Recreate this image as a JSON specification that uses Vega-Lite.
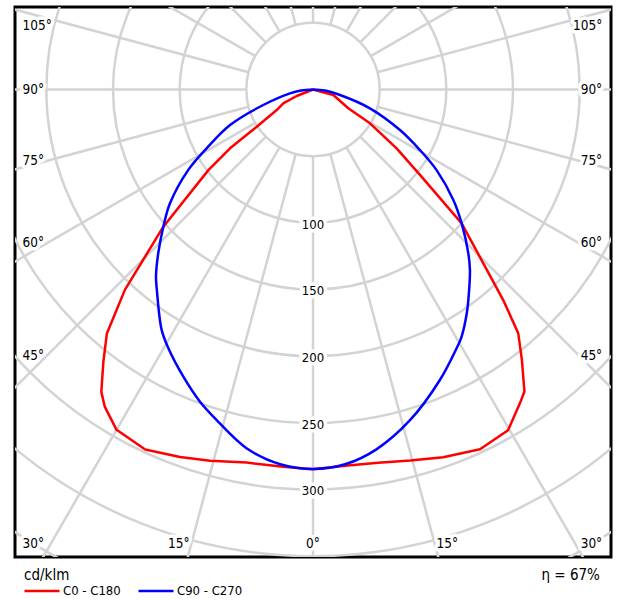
{
  "$schema": "https://vega.github.io/schema/vega-lite/v6.json",
  "width": 596,
  "height": 550,
  "autosize": {"type": "none"},
  "padding": {"left": 15, "top": 7, "right": 7, "bottom": 43},
  "config": {
    "view": {"stroke": "black", "strokeWidth": 3},
    "font": "DejaVu Sans Condensed, DejaVu Sans",
    "text": {"font": "DejaVu Sans Condensed, DejaVu Sans", "color": "black"}
  },
  "datasets": {
    "rings": [{"r": 50}, {"r": 100}, {"r": 150}, {"r": 200}, {"r": 250}, {"r": 300}, {"r": 350}, {"r": 400}],
    "spokes": [
      {"angle": -165}, {"angle": -150}, {"angle": -135}, {"angle": -120}, {"angle": -105}, {"angle": -90},
      {"angle": -75}, {"angle": -60}, {"angle": -45}, {"angle": -30}, {"angle": -15}, {"angle": 0},
      {"angle": 15}, {"angle": 30}, {"angle": 45}, {"angle": 60}, {"angle": 75}, {"angle": 90},
      {"angle": 105}, {"angle": 120}, {"angle": 135}, {"angle": 150}, {"angle": 165}, {"angle": 180}
    ],
    "curves": [
      {"series": "C0 - C180", "angle": -90, "I": 0},
      {"series": "C0 - C180", "angle": -68.3, "I": 13.2},
      {"series": "C0 - C180", "angle": -65.1, "I": 24.6},
      {"series": "C0 - C180", "angle": -60.5, "I": 31.3},
      {"series": "C0 - C180", "angle": -56.5, "I": 50.6},
      {"series": "C0 - C180", "angle": -54.7, "I": 76.3},
      {"series": "C0 - C180", "angle": -52.4, "I": 99.1},
      {"series": "C0 - C180", "angle": -47.5, "I": 152.3},
      {"series": "C0 - C180", "angle": -43.2, "I": 206.2},
      {"series": "C0 - C180", "angle": -40.2, "I": 239.6},
      {"series": "C0 - C180", "angle": -37.6, "I": 257.8},
      {"series": "C0 - C180", "angle": -35.0, "I": 276.9},
      {"series": "C0 - C180", "angle": -33.3, "I": 284.6},
      {"series": "C0 - C180", "angle": -30.0, "I": 294.8},
      {"series": "C0 - C180", "angle": -25.0, "I": 297.9},
      {"series": "C0 - C180", "angle": -19.9, "I": 293.2},
      {"series": "C0 - C180", "angle": -15.5, "I": 289.0},
      {"series": "C0 - C180", "angle": -10.1, "I": 284.3},
      {"series": "C0 - C180", "angle": -4.5, "I": 283.9},
      {"series": "C0 - C180", "angle": 0, "I": 284.8},
      {"series": "C0 - C180", "angle": 4.9, "I": 283.3},
      {"series": "C0 - C180", "angle": 9.9, "I": 284.2},
      {"series": "C0 - C180", "angle": 14.7, "I": 287.8},
      {"series": "C0 - C180", "angle": 19.5, "I": 292.7},
      {"series": "C0 - C180", "angle": 24.9, "I": 297.6},
      {"series": "C0 - C180", "angle": 29.8, "I": 294.5},
      {"series": "C0 - C180", "angle": 33.4, "I": 282.0},
      {"series": "C0 - C180", "angle": 35.0, "I": 276.6},
      {"series": "C0 - C180", "angle": 37.7, "I": 256.3},
      {"series": "C0 - C180", "angle": 40.1, "I": 239.1},
      {"series": "C0 - C180", "angle": 42.1, "I": 212.9},
      {"series": "C0 - C180", "angle": 48.0, "I": 150.1},
      {"series": "C0 - C180", "angle": 51.4, "I": 102.7},
      {"series": "C0 - C180", "angle": 54.9, "I": 76.7},
      {"series": "C0 - C180", "angle": 59.3, "I": 49.7},
      {"series": "C0 - C180", "angle": 62.0, "I": 30.0},
      {"series": "C0 - C180", "angle": 74.8, "I": 15.8},
      {"series": "C0 - C180", "angle": 90, "I": 0},
      {"series": "C90 - C270", "angle": -90, "I": 0},
      {"series": "C90 - C270", "angle": -85, "I": 9},
      {"series": "C90 - C270", "angle": -80.6, "I": 17.5},
      {"series": "C90 - C270", "angle": -72.7, "I": 39.1},
      {"series": "C90 - C270", "angle": -66.8, "I": 67.7},
      {"series": "C90 - C270", "angle": -61.0, "I": 91.5},
      {"series": "C90 - C270", "angle": -57.2, "I": 111.3},
      {"series": "C90 - C270", "angle": -51.5, "I": 137.1},
      {"series": "C90 - C270", "angle": -47.5, "I": 152.3},
      {"series": "C90 - C270", "angle": -43.4, "I": 169.0},
      {"series": "C90 - C270", "angle": -40.0, "I": 183.3},
      {"series": "C90 - C270", "angle": -37.9, "I": 190.7},
      {"series": "C90 - C270", "angle": -32.2, "I": 213.1},
      {"series": "C90 - C270", "angle": -29.2, "I": 222.4},
      {"series": "C90 - C270", "angle": -24.3, "I": 236.4},
      {"series": "C90 - C270", "angle": -19.9, "I": 249.1},
      {"series": "C90 - C270", "angle": -16.3, "I": 258.2},
      {"series": "C90 - C270", "angle": -10.5, "I": 273.7},
      {"series": "C90 - C270", "angle": -5.0, "I": 282.2},
      {"series": "C90 - C270", "angle": 0, "I": 284.7},
      {"series": "C90 - C270", "angle": 4.9, "I": 282.2},
      {"series": "C90 - C270", "angle": 10.0, "I": 274.1},
      {"series": "C90 - C270", "angle": 16.4, "I": 258.4},
      {"series": "C90 - C270", "angle": 23.6, "I": 237.8},
      {"series": "C90 - C270", "angle": 29.0, "I": 222.1},
      {"series": "C90 - C270", "angle": 31.0, "I": 216.4},
      {"series": "C90 - C270", "angle": 34.5, "I": 203.7},
      {"series": "C90 - C270", "angle": 37.9, "I": 190.7},
      {"series": "C90 - C270", "angle": 41.0, "I": 179.5},
      {"series": "C90 - C270", "angle": 43.5, "I": 169.3},
      {"series": "C90 - C270", "angle": 48.0, "I": 150.1},
      {"series": "C90 - C270", "angle": 51.8, "I": 134.0},
      {"series": "C90 - C270", "angle": 56.9, "I": 110.7},
      {"series": "C90 - C270", "angle": 60.5, "I": 92.2},
      {"series": "C90 - C270", "angle": 65.0, "I": 72.0},
      {"series": "C90 - C270", "angle": 71.7, "I": 45.0},
      {"series": "C90 - C270", "angle": 78.5, "I": 20.7},
      {"series": "C90 - C270", "angle": 85, "I": 9},
      {"series": "C90 - C270", "angle": 90, "I": 0}
    ],
    "ringLabels": [{"v": 100}, {"v": 150}, {"v": 200}, {"v": 250}, {"v": 300}],
    "angleLabels": [
      {"a": 105, "side": -1, "grp": "side", "label": "105°"},
      {"a": 90, "side": -1, "grp": "side", "label": "90°"},
      {"a": 75, "side": -1, "grp": "side", "label": "75°"},
      {"a": 60, "side": -1, "grp": "side", "label": "60°"},
      {"a": 45, "side": -1, "grp": "side", "label": "45°"},
      {"a": 30, "side": -1, "grp": "side", "label": "30°"},
      {"a": 105, "side": 1, "grp": "side", "label": "105°"},
      {"a": 90, "side": 1, "grp": "side", "label": "90°"},
      {"a": 75, "side": 1, "grp": "side", "label": "75°"},
      {"a": 60, "side": 1, "grp": "side", "label": "60°"},
      {"a": 45, "side": 1, "grp": "side", "label": "45°"},
      {"a": 30, "side": 1, "grp": "side", "label": "30°"},
      {"a": 15, "side": -1, "grp": "bottom", "label": "15°"},
      {"a": 0, "side": 1, "grp": "bottom", "label": "0°"},
      {"a": 15, "side": 1, "grp": "bottom", "label": "15°"}
    ]
  },
  "layer": [
    {
      "data": {"name": "rings"},
      "mark": {"type": "point", "shape": "circle", "filled": false, "stroke": "#d3d3d3", "strokeWidth": 2.5, "opacity": 1, "clip": true},
      "encoding": {
        "x": {"datum": 0, "type": "quantitative", "scale": {"domain": [-223.6, 223.6], "nice": false, "zero": false}, "axis": null},
        "y": {"datum": 0, "type": "quantitative", "scale": {"domain": [-350.7, 61.9], "nice": false, "zero": false}, "axis": null},
        "size": {"field": "r", "type": "quantitative", "scale": {"type": "pow", "exponent": 2, "domain": [0, 400], "range": [0, 1137778]}, "legend": null}
      }
    },
    {
      "data": {"name": "spokes"},
      "transform": [
        {"calculate": "50*sin(datum.angle*PI/180)", "as": "xa"},
        {"calculate": "-50*cos(datum.angle*PI/180)", "as": "ya"},
        {"calculate": "700*sin(datum.angle*PI/180)", "as": "xb"},
        {"calculate": "-700*cos(datum.angle*PI/180)", "as": "yb"}
      ],
      "mark": {"type": "rule", "stroke": "#d3d3d3", "strokeWidth": 2.5, "clip": true},
      "encoding": {
        "x": {"field": "xa", "type": "quantitative", "axis": null},
        "y": {"field": "ya", "type": "quantitative", "axis": null},
        "x2": {"field": "xb"},
        "y2": {"field": "yb"}
      }
    },
    {
      "data": {"name": "ringLabels"},
      "transform": [{"calculate": "-datum.v", "as": "ny"}],
      "mark": {"type": "text", "fontSize": 13, "baseline": "middle", "align": "center", "dy": 2, "stroke": "white", "strokeWidth": 7, "strokeJoin": "round", "fill": "white"},
      "encoding": {
        "x": {"datum": 0, "type": "quantitative"},
        "y": {"field": "ny", "type": "quantitative"},
        "text": {"field": "v", "type": "nominal"}
      }
    },
    {
      "data": {"name": "ringLabels"},
      "transform": [{"calculate": "-datum.v", "as": "ny"}],
      "mark": {"type": "text", "fontSize": 13, "baseline": "middle", "align": "center", "dy": 2, "fill": "black"},
      "encoding": {
        "x": {"datum": 0, "type": "quantitative"},
        "y": {"field": "ny", "type": "quantitative"},
        "text": {"field": "v", "type": "nominal"}
      }
    },
    {
      "data": {"name": "angleLabels"},
      "transform": [
        {"filter": "datum.grp == 'side' && datum.side < 0"},
        {"calculate": "-218", "as": "lx"},
        {"calculate": "max(-341, min(48, -200*cos(datum.a*PI/180)/sin(datum.a*PI/180)))", "as": "ly"}
      ],
      "layer": [
        {"mark": {"type": "text", "fontSize": 13.5, "baseline": "middle", "align": "left", "stroke": "white", "strokeWidth": 7, "strokeJoin": "round", "fill": "white"}},
        {"mark": {"type": "text", "fontSize": 13.5, "baseline": "middle", "align": "left", "fill": "black"}}
      ],
      "encoding": {
        "x": {"field": "lx", "type": "quantitative"},
        "y": {"field": "ly", "type": "quantitative"},
        "text": {"field": "label", "type": "nominal"}
      }
    },
    {
      "data": {"name": "angleLabels"},
      "transform": [
        {"filter": "datum.grp == 'side' && datum.side > 0"},
        {"calculate": "217", "as": "lx"},
        {"calculate": "max(-341, min(48, -200*cos(datum.a*PI/180)/sin(datum.a*PI/180)))", "as": "ly"}
      ],
      "layer": [
        {"mark": {"type": "text", "fontSize": 13.5, "baseline": "middle", "align": "right", "stroke": "white", "strokeWidth": 7, "strokeJoin": "round", "fill": "white"}},
        {"mark": {"type": "text", "fontSize": 13.5, "baseline": "middle", "align": "right", "fill": "black"}}
      ],
      "encoding": {
        "x": {"field": "lx", "type": "quantitative"},
        "y": {"field": "ly", "type": "quantitative"},
        "text": {"field": "label", "type": "nominal"}
      }
    },
    {
      "data": {"name": "angleLabels"},
      "transform": [
        {"filter": "datum.grp == 'bottom'"},
        {"calculate": "datum.side*376*tan(datum.a*PI/180)", "as": "lx"},
        {"calculate": "-341", "as": "ly"}
      ],
      "layer": [
        {"mark": {"type": "text", "fontSize": 13.5, "baseline": "middle", "align": "center", "stroke": "white", "strokeWidth": 7, "strokeJoin": "round", "fill": "white"}},
        {"mark": {"type": "text", "fontSize": 13.5, "baseline": "middle", "align": "center", "fill": "black"}}
      ],
      "encoding": {
        "x": {"field": "lx", "type": "quantitative"},
        "y": {"field": "ly", "type": "quantitative"},
        "text": {"field": "label", "type": "nominal"}
      }
    },
    {
      "data": {"name": "curves"},
      "transform": [
        {"filter": "datum.series == 'C0 - C180'"},
        {"calculate": "datum.I*sin(datum.angle*PI/180)", "as": "cx"},
        {"calculate": "-datum.I*cos(datum.angle*PI/180)", "as": "cy"}
      ],
      "mark": {"type": "line", "strokeWidth": 2.5, "clip": true, "strokeJoin": "round"},
      "encoding": {
        "x": {"field": "cx", "type": "quantitative"},
        "y": {"field": "cy", "type": "quantitative"},
        "order": {"field": "angle", "type": "quantitative"},
        "color": {
          "field": "series",
          "type": "nominal",
          "scale": {"domain": ["C0 - C180", "C90 - C270"], "range": ["#ff0000", "#0000ff"]},
          "legend": {
            "title": null,
            "orient": "none",
            "legendX": 8,
            "legendY": 565,
            "direction": "horizontal",
            "symbolType": "stroke",
            "symbolSize": 1225,
            "symbolStrokeWidth": 2.5,
            "labelFont": "DejaVu Sans Condensed, DejaVu Sans",
            "labelFontSize": 13,
            "labelColor": "black",
            "labelOffset": 2,
            "columnPadding": 12,
            "padding": 0
          }
        }
      }
    },
    {
      "data": {"name": "curves"},
      "transform": [
        {"filter": "datum.series == 'C90 - C270'"},
        {"calculate": "datum.I*sin(datum.angle*PI/180)", "as": "cx"},
        {"calculate": "-datum.I*cos(datum.angle*PI/180)", "as": "cy"}
      ],
      "mark": {"type": "line", "strokeWidth": 2.5, "clip": true, "interpolate": "catmull-rom"},
      "encoding": {
        "x": {"field": "cx", "type": "quantitative"},
        "y": {"field": "cy", "type": "quantitative"},
        "order": {"field": "angle", "type": "quantitative"},
        "color": {"field": "series", "type": "nominal"}
      }
    },
    {
      "data": {"values": [{"t": "cd/klm"}]},
      "mark": {"type": "text", "fontSize": 15, "align": "left", "baseline": "middle", "clip": false},
      "encoding": {
        "x": {"datum": -216.8, "type": "quantitative"},
        "y": {"datum": -364, "type": "quantitative"},
        "text": {"field": "t", "type": "nominal"}
      }
    },
    {
      "data": {"values": [{"t": "η = 67%"}]},
      "mark": {"type": "text", "fontSize": 15, "align": "right", "baseline": "middle", "clip": false},
      "encoding": {
        "x": {"datum": 215.3, "type": "quantitative"},
        "y": {"datum": -364, "type": "quantitative"},
        "text": {"field": "t", "type": "nominal"}
      }
    }
  ]
}
